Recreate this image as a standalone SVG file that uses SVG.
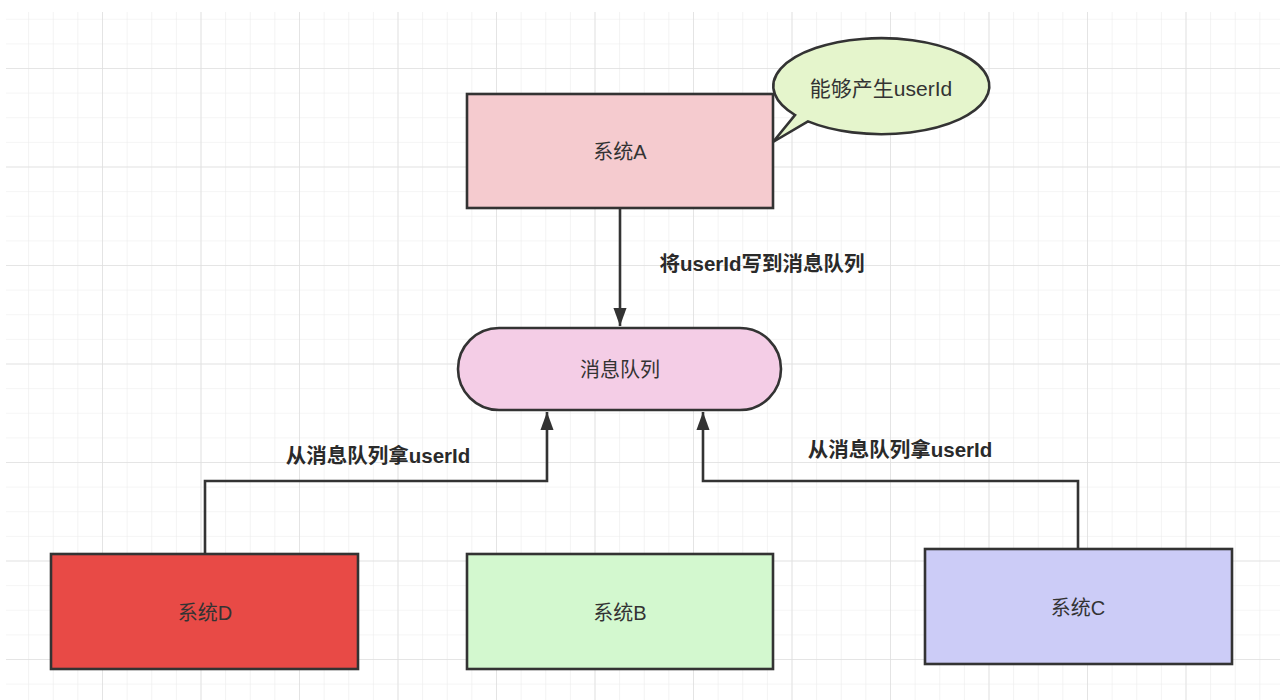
<svg xmlns="http://www.w3.org/2000/svg" width="1280" height="700" viewBox="0 0 1280 700">
<style>
.node{stroke:#333;stroke-width:2.6}
.lbl{font-family:"Liberation Sans","Noto Sans CJK SC",sans-serif;font-size:20px;fill:#333;text-anchor:middle;dominant-baseline:central}
.elbl{font-family:"Liberation Sans","Noto Sans CJK SC",sans-serif;font-size:20.5px;fill:#2a2a2a;font-weight:bold;text-anchor:middle;dominant-baseline:central}
.edge{fill:none;stroke:#333;stroke-width:2.6}
</style>
<defs>
<pattern id="minor" x="3.5" y="68" width="24.625" height="24.625" patternUnits="userSpaceOnUse">
<path d="M0 0H24.625M0 0V24.625" fill="none" stroke="#ebebeb" stroke-width="1.2"/>
</pattern>
<pattern id="major" x="3.5" y="68" width="98.5" height="98.5" patternUnits="userSpaceOnUse">
<path d="M0 0H98.5M0 0V98.5" fill="none" stroke="#e0e0e0" stroke-width="1.6"/>
</pattern>
<marker id="arrow" markerUnits="userSpaceOnUse" markerWidth="18" markerHeight="24" refX="22" refY="8" orient="auto" viewBox="0 0 22 16">
<path d="M0 0L22 8L0 16Z" fill="#333"/>
</marker>
</defs>
<rect width="1280" height="700" fill="#fff"/>
<rect x="6" y="12" width="1274" height="688" fill="url(#minor)"/>
<rect x="6" y="12" width="1274" height="688" fill="url(#major)"/>

<g id="connectors">
<path class="edge" d="M620 208V326" marker-end="url(#arrow)"/>
<path class="edge" d="M205 553V481H547V412" marker-end="url(#arrow)"/>
<path class="edge" d="M1078 548V481H703V412" marker-end="url(#arrow)"/>
<text class="elbl" x="762" y="263">将userId写到消息队列</text>
<text class="elbl" x="378" y="455">从消息队列拿userId</text>
<text class="elbl" x="900" y="449">从消息队列拿userId</text>
</g>

<g id="systemA">
<rect class="node" x="467" y="94" width="306" height="114" fill="#f5cbcf"/>
<text class="lbl" x="620" y="152">系统A</text>
</g>

<g id="bubble">
<path class="node" fill="#e5f5cc" d="M808 121.4 L773 142 L795 115 A108 48 0 1 1 808 121.4 Z"/>
<text class="lbl" x="881" y="88" style="font-size:21px">能够产生userId</text>
</g>

<g id="mq">
<rect class="node" x="458" y="328" width="323" height="82" rx="41" ry="41" fill="#f4cde6"/>
<text class="lbl" x="620" y="370">消息队列</text>
</g>

<g id="systemD">
<rect class="node" x="51" y="554" width="307" height="115" fill="#e84a46"/>
<text class="lbl" x="205" y="613">系统D</text>
</g>

<g id="systemB">
<rect class="node" x="467" y="554" width="306" height="115" fill="#d3f8cf"/>
<text class="lbl" x="620" y="613">系统B</text>
</g>

<g id="systemC">
<rect class="node" x="925" y="549" width="307" height="115" fill="#ccccf7"/>
<text class="lbl" x="1078" y="608">系统C</text>
</g>
</svg>
